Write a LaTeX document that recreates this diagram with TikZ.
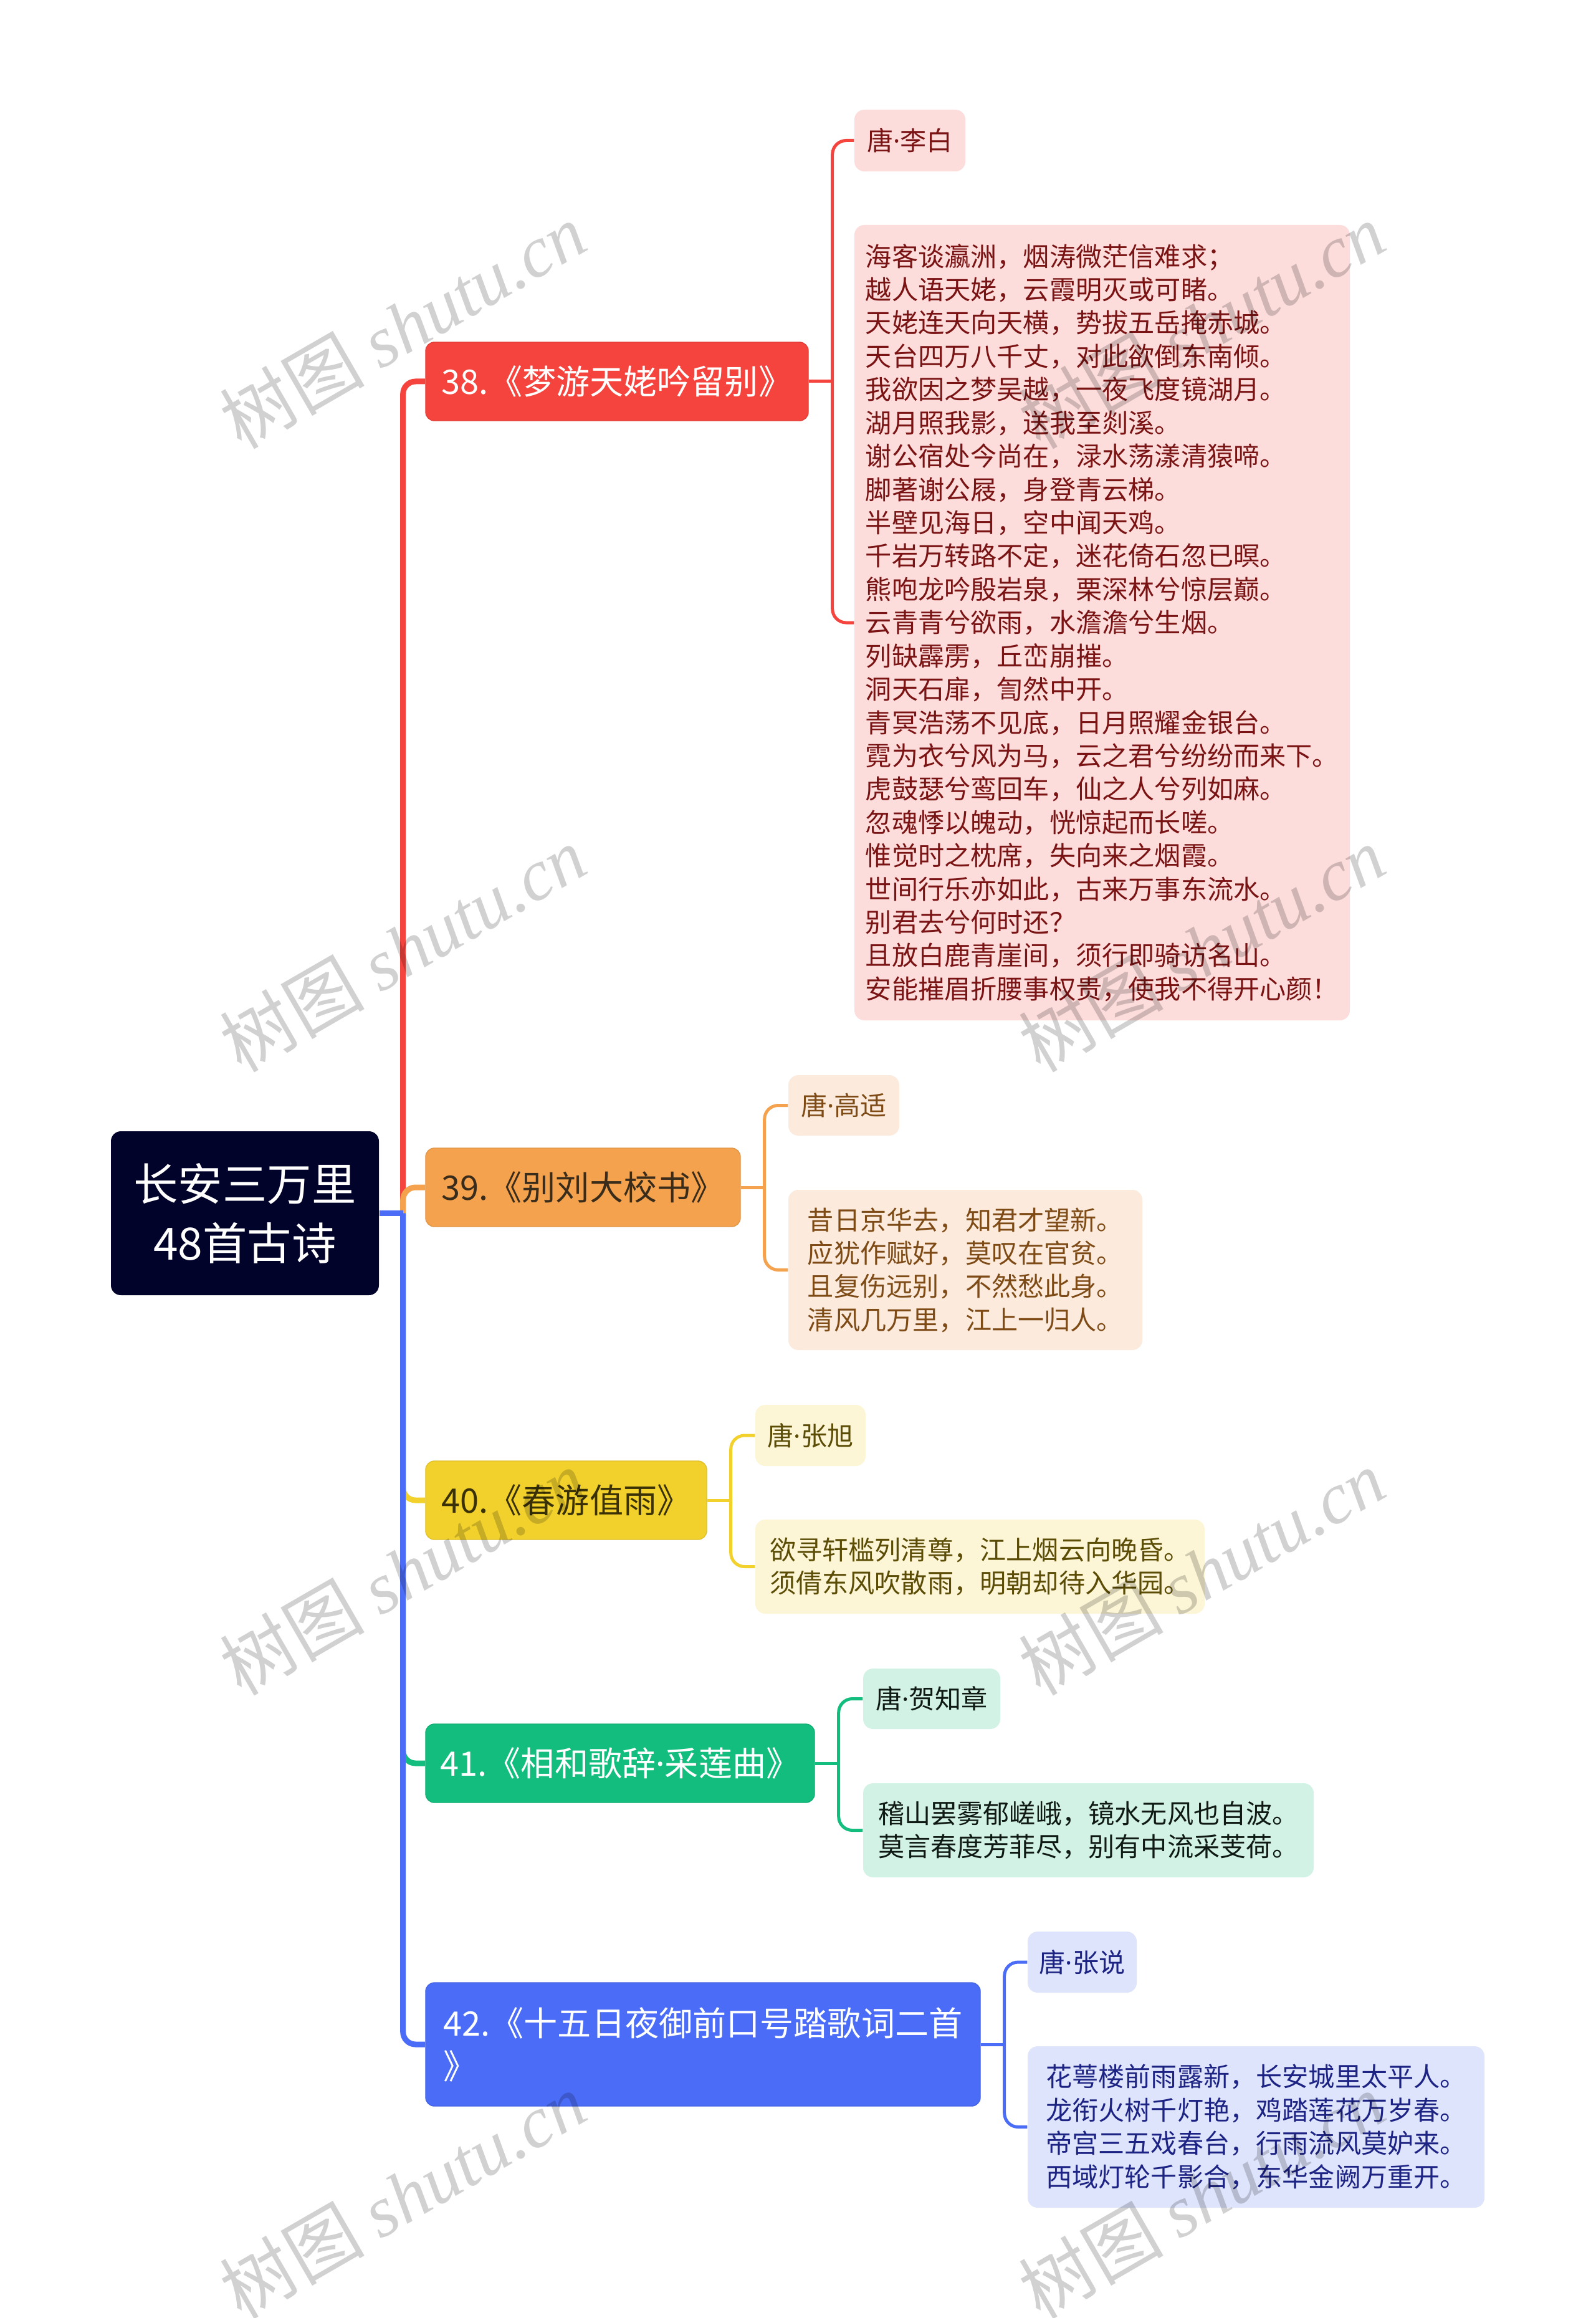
\documentclass[tikz,border=0pt]{standalone}
\usepackage{fontspec}
\setmainfont{Noto Sans CJK SC}
\newfontfamily\wmfont{Liberation Serif}
\newfontfamily\latinfont{Noto Sans}
\usetikzlibrary{positioning,calc}
\definecolor{rootnavy}{HTML}{02032A}
\definecolor{c38}{HTML}{F5443D}
\definecolor{c39}{HTML}{F4A24D}
\definecolor{c40}{HTML}{F2D12C}
\definecolor{c41}{HTML}{12BD7E}
\definecolor{c42}{HTML}{4A6CF7}
\definecolor{l38}{HTML}{FDDCDC}
\definecolor{l39}{HTML}{FCEBDC}
\definecolor{l40}{HTML}{FCF5D6}
\definecolor{l41}{HTML}{D3F2E6}
\definecolor{l42}{HTML}{DEE4FC}
\definecolor{t38}{HTML}{7A1414}
\definecolor{t39}{HTML}{7E4B17}
\definecolor{t40}{HTML}{5B4C06}
\definecolor{t41}{HTML}{101A14}
\definecolor{t42}{HTML}{1C2383}
\definecolor{m39}{HTML}{3A2C1A}
\definecolor{m40}{HTML}{3A3206}
\newcommand{\rootsize}{\fontsize{20.3pt}{27pt}\selectfont}
\newcommand{\mainsize}{\fontsize{15.4pt}{19.6pt}\selectfont}
\newcommand{\leafsize}{\fontsize{12pt}{15.2pt}\selectfont}
\newcommand{\wmsize}{\fontsize{33pt}{33pt}\selectfont}
\newcommand{\middot}{{\latinfont ·}}

\begin{document}
\begin{tikzpicture}[
    rootnode/.style={fill=rootnavy, text=white, rounded corners=0.16cm, align=center, font=\rootsize, inner sep=0pt, minimum width=4.30cm, minimum height=2.63cm},
    mainnode/.style={rounded corners=0.14cm, inner sep=0pt, align=left, font=\mainsize, line width=0.4pt, minimum height=1.26cm},
    leafnode/.style={rounded corners=0.16cm, inner sep=0pt, align=left, font=\leafsize},
    trunk/.style={line width=0.09cm, rounded corners=0.2cm},
    brace/.style={line width=0.05cm, rounded corners=0.22cm},
    watermark/.style={rotate=30, text=black, opacity=0.18, font=\wmsize}
]
    \fill[white] (0,0) rectangle (25.6,-37.19);
    \useasboundingbox (0,0) rectangle (25.6,-37.19);

    % Radice
    \node[rootnode] (root) at (3.93,-19.465) {长安三万里\\48首古诗};

    % Livello 1: le poesie
    \node[mainnode, fill=c38, draw=c38!92!black, text=white, minimum width=6.14cm] (p38) at (9.90,-6.12) {38.《梦游天姥吟留别》};
    \node[mainnode, fill=c39, draw=c39!92!black, text=m39, minimum width=5.05cm] (p39) at (9.355,-19.05) {39.《别刘大校书》};
    \node[mainnode, fill=c40, draw=c40!92!black, text=m40, minimum width=4.51cm] (p40) at (9.085,-24.07) {40.《春游值雨》};
    \node[mainnode, fill=c41, draw=c41!92!black, text=white, minimum width=6.24cm] (p41) at (9.95,-28.29) {41.《相和歌辞\middot 采莲曲》};
    \node[mainnode, fill=c42, draw=c42!92!black, text=white, minimum width=8.90cm, minimum height=1.98cm] (p42) at (11.28,-32.80) {42.《十五日夜御前口号踏歌词二首\\》};

    % Rami dal centro
    \coordinate (hub) at ($(root.east)+(0.38,0)$);
    \draw[trunk, c38] (p38.west) -| (hub);
    \draw[trunk, c39] (p39.west) -| (hub);
    \draw[trunk, c40] (p40.west) -| (hub);
    \draw[trunk, c41] (p41.west) -| (hub);
    \draw[trunk, c42] (p42.west) -| (hub);
    \draw[line width=0.09cm, c42] (root.east) -- (hub);

    % Livello 2: autori e testi
    \node[leafnode, fill=l38, text=t38, minimum width=1.78cm, minimum height=0.99cm] (a38) at (14.60,-2.255) {唐\middot 李白};
    \node[leafnode, fill=l38, text=t38, minimum width=7.95cm, minimum height=12.76cm] (v38) at (17.685,-9.99) {海客谈瀛洲，烟涛微茫信难求；\\越人语天姥，云霞明灭或可睹。\\天姥连天向天横，势拔五岳掩赤城。\\天台四万八千丈，对此欲倒东南倾。\\我欲因之梦吴越，一夜飞度镜湖月。\\湖月照我影，送我至剡溪。\\谢公宿处今尚在，渌水荡漾清猿啼。\\脚著谢公屐，身登青云梯。\\半壁见海日，空中闻天鸡。\\千岩万转路不定，迷花倚石忽已暝。\\熊咆龙吟殷岩泉，栗深林兮惊层巅。\\云青青兮欲雨，水澹澹兮生烟。\\列缺霹雳，丘峦崩摧。\\洞天石扉，訇然中开。\\青冥浩荡不见底，日月照耀金银台。\\霓为衣兮风为马，云之君兮纷纷而来下。\\虎鼓瑟兮鸾回车，仙之人兮列如麻。\\忽魂悸以魄动，恍惊起而长嗟。\\惟觉时之枕席，失向来之烟霞。\\世间行乐亦如此，古来万事东流水。\\别君去兮何时还？\\且放白鹿青崖间，须行即骑访名山。\\安能摧眉折腰事权贵，使我不得开心颜！};

    \node[leafnode, fill=l39, text=t39, minimum width=1.78cm, minimum height=0.97cm] (a39) at (13.54,-17.735) {唐\middot 高适};
    \node[leafnode, fill=l39, text=t39, minimum width=5.68cm, minimum height=2.57cm] (v39) at (15.49,-20.375) {昔日京华去，知君才望新。\\应犹作赋好，莫叹在官贫。\\且复伤远别，不然愁此身。\\清风几万里，江上一归人。};

    \node[leafnode, fill=l40, text=t40, minimum width=1.77cm, minimum height=0.98cm] (a40) at (13.005,-23.03) {唐\middot 张旭};
    \node[leafnode, fill=l40, text=t40, minimum width=7.21cm, minimum height=1.51cm] (v40) at (15.725,-25.135) {欲寻轩槛列清尊，江上烟云向晚昏。\\须倩东风吹散雨，明朝却待入华园。};

    \node[leafnode, fill=l41, text=t41, minimum width=2.20cm, minimum height=0.97cm] (a41) at (14.95,-27.255) {唐\middot 贺知章};
    \node[leafnode, fill=l41, text=t41, minimum width=7.23cm, minimum height=1.51cm] (v41) at (17.465,-29.365) {稽山罢雾郁嵯峨，镜水无风也自波。\\莫言春度芳菲尽，别有中流采芰荷。};

    \node[leafnode, fill=l42, text=t42, minimum width=1.75cm, minimum height=0.98cm] (a42) at (17.365,-31.48) {唐\middot 张说};
    \node[leafnode, fill=l42, text=t42, minimum width=7.33cm, minimum height=2.59cm] (v42) at (20.155,-34.125) {花萼楼前雨露新，长安城里太平人。\\龙衔火树千灯艳，鸡踏莲花万岁春。\\帝宫三五戏春台，行雨流风莫妒来。\\西域灯轮千影合，东华金阙万重开。};

    % Parentesi verso i figli
    \coordinate (h38) at ($(p38.east)+(0.38,0)$);
    \draw[brace, c38] (a38.west) -| (h38);
    \draw[brace, c38] (v38.west) -| (h38);
    \draw[brace, c38] (p38.east) -- (h38);

    \coordinate (h39) at ($(p39.east)+(0.38,0)$);
    \draw[brace, c39] (a39.west) -| (h39);
    \draw[brace, c39] (v39.west) -| (h39);
    \draw[brace, c39] (p39.east) -- (h39);

    \coordinate (h40) at ($(p40.east)+(0.38,0)$);
    \draw[brace, c40] (a40.west) -| (h40);
    \draw[brace, c40] (v40.west) -| (h40);
    \draw[brace, c40] (p40.east) -- (h40);

    \coordinate (h41) at ($(p41.east)+(0.38,0)$);
    \draw[brace, c41] (a41.west) -| (h41);
    \draw[brace, c41] (v41.west) -| (h41);
    \draw[brace, c41] (p41.east) -- (h41);

    \coordinate (h42) at ($(p42.east)+(0.38,0)$);
    \draw[brace, c42] (a42.west) -| (h42);
    \draw[brace, c42] (v42.west) -| (h42);
    \draw[brace, c42] (p42.east) -- (h42);

    % Filigrana
    \node[watermark] (wm1) at (6.46,-5.22)  {树图 {\wmfont\itshape shutu.cn}};
    \node[watermark] (wm2) at (19.28,-5.22) {树图 {\wmfont\itshape shutu.cn}};
    \node[watermark] (wm3) at (6.46,-15.22) {树图 {\wmfont\itshape shutu.cn}};
    \node[watermark] (wm4) at (19.28,-15.22) {树图 {\wmfont\itshape shutu.cn}};
    \node[watermark] (wm5) at (6.46,-25.22) {树图 {\wmfont\itshape shutu.cn}};
    \node[watermark] (wm6) at (19.28,-25.22) {树图 {\wmfont\itshape shutu.cn}};
    \node[watermark] (wm7) at (6.46,-35.22) {树图 {\wmfont\itshape shutu.cn}};
    \node[watermark] (wm8) at (19.28,-35.22) {树图 {\wmfont\itshape shutu.cn}};
\end{tikzpicture}
\end{document}
